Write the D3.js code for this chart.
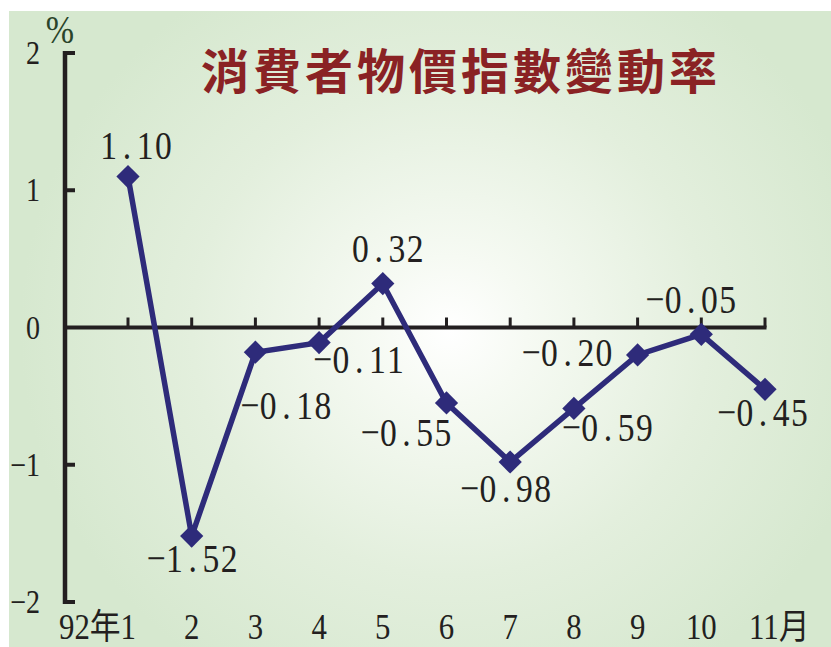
<!DOCTYPE html>
<html>
<head>
<meta charset="utf-8">
<script src="https://cdn.jsdelivr.net/npm/d3@7"></script>
<style>
    html, body { margin: 0; padding: 0; background: #ffffff; }
    svg { display: block; }
</style>
</head>
<body>
<svg id="chart" width="831" height="647"></svg>
<script>
/* =========================================================
   Data
   ========================================================= */

const MONTHS = [1, 2, 3, 4, 5, 6, 7, 8, 9, 10, 11];
const MONTH_LABELS = ["92年1", "2", "3", "4", "5", "6", "7", "8", "9", "10", "11月"];
const CPI_CHANGE = [1.10, -1.52, -0.18, -0.11, 0.32, -0.55, -0.98, -0.59, -0.20, -0.05, -0.45];
const Y_TICKS = [2, 1, 0, -1, -2];
const TITLE = "消費者物價指數變動率";
const UNIT = "%";

/* =========================================================
   Layout
   ========================================================= */

// label placement relative to each point: [dx of centre, dy of baseline]
const LABEL_OFFSETS = [
    [8, -18], [1, 36], [31, 67], [40, 30], [5, -22], [-40, 43],
    [-4, 40], [34, 33], [-70, 11], [-10, -21], [-2, 37]
];

const NUM_FONT = "'Liberation Serif', 'DejaVu Serif', serif";
const CJK_FONT = "'Liberation Serif', 'Noto Sans CJK TC', serif";
const INK = "#231f20";
const LINE_COLOR = "#2e2b7a";
const SQUEEZE = 0.82;

const svg = d3.select("#chart");

/* =========================================================
   Background
   ========================================================= */

const defs = svg.append("defs");
const grad = defs.append("radialGradient")
    .attr("id", "bg")
    .attr("gradientUnits", "userSpaceOnUse")
    .attr("cx", 450).attr("cy", 330).attr("r", 430)
    .attr("gradientTransform", "translate(450,330) scale(1,0.95) translate(-450,-330)");
grad.append("stop").attr("offset", 0).attr("stop-color", "#ffffff");
grad.append("stop").attr("offset", 0.18).attr("stop-color", "#f6faf3");
grad.append("stop").attr("offset", 0.6).attr("stop-color", "#e3efdd");
grad.append("stop").attr("offset", 1).attr("stop-color", "#d6e8cf");

svg.append("rect")
    .attr("x", 9).attr("y", 11)
    .attr("width", 822).attr("height", 636)
    .attr("fill", "url(#bg)");

/* =========================================================
   Scales
   ========================================================= */

const x = d3.scalePoint().domain(MONTHS).range([128, 765]);
const y = d3.scaleLinear().domain([-2, 2]).range([602, 53]);
const AXIS_X = 65;

/* =========================================================
   Title and unit
   ========================================================= */

svg.append("text")
    .attr("x", 461).attr("y", 89)
    .attr("text-anchor", "middle")
    .attr("font-family", "'Noto Sans CJK TC', sans-serif")
    .attr("font-size", 48)
    .attr("font-weight", 700)
    .attr("letter-spacing", 4)
    .attr("fill", "#8a2224")
    .text(TITLE);

svg.append("text")
    .attr("transform", `translate(60,43) scale(0.85,1)`)
    .attr("text-anchor", "middle")
    .attr("font-family", NUM_FONT)
    .attr("font-size", 40)
    .attr("fill", "#2a442a")
    .text(UNIT);

/* =========================================================
   Axes
   ========================================================= */

const axisG = svg.append("g")
    .attr("stroke", INK)
    .attr("fill", "none");

axisG.append("line")
    .attr("x1", AXIS_X).attr("x2", AXIS_X)
    .attr("y1", y(2) - 2).attr("y2", y(-2) + 2)
    .attr("stroke-width", 4.5);

axisG.selectAll(".ytick")
    .data(Y_TICKS.filter(v => v !== 0))
    .enter()
    .append("line")
    .attr("x1", AXIS_X).attr("x2", AXIS_X + 10)
    .attr("y1", v => y(v)).attr("y2", v => y(v))
    .attr("stroke-width", 4);

axisG.append("line")
    .attr("x1", AXIS_X).attr("x2", x(11) + 1.5)
    .attr("y1", y(0)).attr("y2", y(0))
    .attr("stroke-width", 4);

axisG.selectAll(".xtick")
    .data(MONTHS)
    .enter()
    .append("line")
    .attr("x1", d => x(d)).attr("x2", d => x(d))
    .attr("y1", y(0)).attr("y2", y(0) - 10)
    .attr("stroke-width", 3);

svg.selectAll(".ylabel")
    .data(Y_TICKS)
    .enter()
    .append("text")
    .attr("transform", v => `translate(40,${y(v) + 11}) scale(0.85,1)`)
    .attr("text-anchor", "end")
    .attr("font-family", NUM_FONT)
    .attr("font-size", 33)
    .attr("fill", INK)
    .text(v => v < 0 ? "−" + Math.abs(v) : String(v));

svg.selectAll(".xlabel")
    .data(MONTHS)
    .enter()
    .append("text")
    .attr("transform", (d, i) => {
        let px = x(d);
        if (i === 0) px += 8;
        if (i === MONTHS.length - 1) px -= 16;
        return `translate(${px},639) scale(0.88,1)`;
    })
    .attr("text-anchor", (d, i) => i === 0 ? "end" : i === MONTHS.length - 1 ? "start" : "middle")
    .attr("font-family", CJK_FONT)
    .attr("font-size", 35)
    .attr("fill", INK)
    .text((d, i) => MONTH_LABELS[i]);

/* =========================================================
   Series
   ========================================================= */

const line = d3.line()
    .x((_, i) => x(MONTHS[i]))
    .y(v => y(v));

svg.append("path")
    .datum(CPI_CHANGE)
    .attr("fill", "none")
    .attr("stroke", LINE_COLOR)
    .attr("stroke-width", 5.5)
    .attr("stroke-linejoin", "miter")
    .attr("d", line);

const marker = d3.symbol().type(d3.symbolSquare).size(270);

svg.selectAll(".marker")
    .data(CPI_CHANGE)
    .enter()
    .append("path")
    .attr("transform", (v, i) => `translate(${x(MONTHS[i])},${y(v)}) rotate(45)`)
    .attr("fill", LINE_COLOR)
    .attr("d", marker);

/* =========================================================
   Value labels (monospaced like the original digits)
   ========================================================= */

function fmt(v) {
    const s = Math.abs(v).toFixed(2);
    return v < 0 ? "−" + s : s;
}

const PITCH = 18.2 / SQUEEZE;

svg.selectAll(".vlabel")
    .data(CPI_CHANGE)
    .enter()
    .append("text")
    .attr("transform", (v, i) => {
        const [dx, dy] = LABEL_OFFSETS[i];
        return `translate(${x(MONTHS[i]) + dx},${y(v) + dy}) scale(${SQUEEZE},1)`;
    })
    .attr("x", v => {
        const s = fmt(v);
        return Array.from(s, (_, k) => (k - (s.length - 1) / 2) * PITCH).join(" ");
    })
    .attr("text-anchor", "middle")
    .attr("font-family", NUM_FONT)
    .attr("font-size", 41)
    .attr("fill", INK)
    .text(fmt);
</script>
</body>
</html>
